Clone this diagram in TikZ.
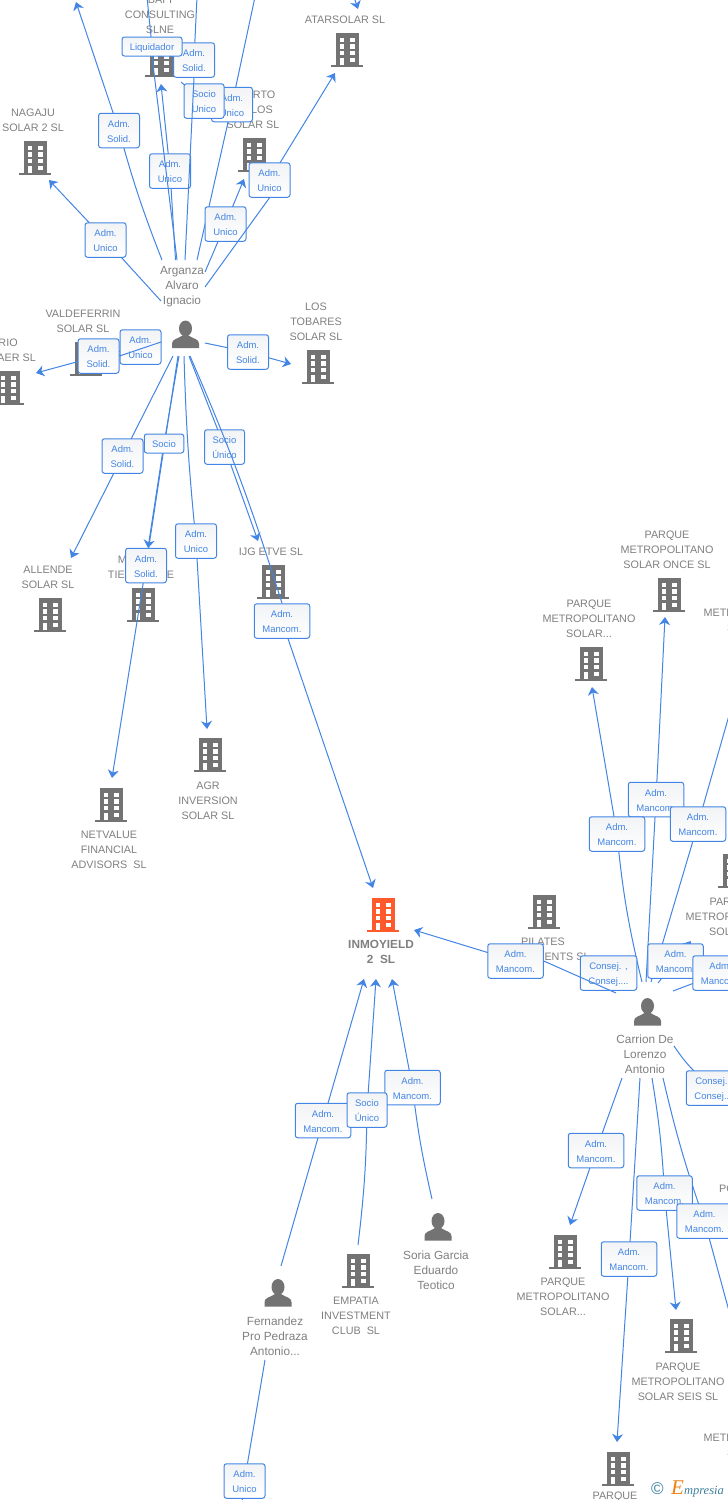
\documentclass[tikz,border=0pt]{standalone}
\usepackage{fontspec}
\setmainfont{Liberation Sans}
\newfontfamily\logofont{Liberation Serif}
\usetikzlibrary{arrows.meta}

\definecolor{txtgray}{HTML}{808080}
\definecolor{icongray}{HTML}{737373}
\definecolor{mainorange}{HTML}{FF5A2C}
\definecolor{tagblue}{HTML}{4385E4}
\definecolor{tagtop}{HTML}{F2F3F5}
\definecolor{logoteal}{HTML}{3E7F9E}
\definecolor{logoorange}{HTML}{F08010}

\pgfdeclarelayer{ents}
\pgfdeclarelayer{links}
\pgfsetlayers{ents,links,main}

\tikzset{
    ent/.style={text=txtgray, align=center, inner sep=0pt, yshift=-0.8pt, font=\fontsize{10.8}{15}\selectfont},
    man/.style={ent, font=\fontsize{11.8}{15}\selectfont},
    tag/.style={draw=tagblue, line width=1pt, rounded corners=2.5pt, text=tagblue, align=center,
        top color=tagtop, bottom color=white, inner sep=0pt, minimum width=41pt, minimum height=34.5pt,
        font=\fontsize{9.5}{15}\selectfont, text height=23pt, text depth=0pt},
    onetag/.style={tag, minimum height=19pt, text height=8.8pt},
    widetag/.style={tag, minimum width=55.5pt},
    link/.style={draw=tagblue, line width=1pt},
    arr/.style={link, -{Stealth[length=8pt,width=11pt,inset=2.5pt]}},
    pics/building/.style={code={
        \fill[#1] (-16,15) rectangle (16,17);
        \fill[#1] (-11.5,-17) rectangle (11.5,15);
        \foreach \wy in {-12.5,-5.8,0.9}{
            \fill[white] (-7.5,\wy) rectangle (-2.7,\wy+4.3);
            \fill[white] (2.7,\wy) rectangle (7.5,\wy+4.3);
        }
        \fill[white] (-7.5,7.6) rectangle (-2.7,15);
        \fill[white] (2.7,7.6) rectangle (7.5,12);
    }},
    pics/person/.style={code={
        \fill[icongray] (0,-6) ellipse (6.5 and 8);
        \fill[icongray] (-13.5,13.5) -- (-13.5,9) .. controls (-13.5,4.5) and (-8,4.5) .. (-3,1)
            -- (3,1) .. controls (8,4.5) and (13.5,4.5) .. (13.5,9) -- (13.5,13.5) -- cycle;
    }},
}

\begin{document}
\begin{tikzpicture}[x=1pt,y=-1pt]
    \useasboundingbox (0,0) rectangle (728,1500);

    \begin{pgfonlayer}{ents}
    \fill[white] (0,0) rectangle (728,1500);
    \pic at (161,60) {building=icongray};
    \pic at (347,50) {building=icongray};
    \pic at (35,158) {building=icongray};
    \pic at (254,155) {building=icongray};
    \pic at (86,359) {building=icongray};
    \pic at (8,388) {building=icongray};
    \pic at (318,367) {building=icongray};
    \pic at (50,615) {building=icongray};
    \pic at (143,605) {building=icongray};
    \pic at (273,582) {building=icongray};
    \pic at (210,755) {building=icongray};
    \pic at (111,805) {building=icongray};
    \pic at (383,915) {building=mainorange};
    \pic at (544,912) {building=icongray};
    \pic at (734,871) {building=icongray};
    \pic at (669,595) {building=icongray};
    \pic at (591,664) {building=icongray};
    \pic at (565,1252) {building=icongray};
    \pic at (681,1336) {building=icongray};
    \pic at (618,1469) {building=icongray};
    \pic at (358,1271) {building=icongray};
    \pic at (185.5,334.5) {person};
    \pic at (647.5,1012) {person};
    \pic at (438,1227) {person};
    \pic at (278,1293) {person};

    \node[ent] (bafi) at (160,14) {BAFI\\CONSULTING\\SLNE};
    \node[ent] (atarsolar) at (345,19) {ATARSOLAR SL};
    \node[ent] (nagaju) at (33,119.5) {NAGAJU\\SOLAR 2 SL};
    \node[ent] (puerto) at (253,109) {PUERTO\\DE LOS\\SOLAR SL};
    \node[man] (arganza) at (182,286) {Arganza\\Alvaro\\Ignacio};
    \node[ent] (valdeferrin) at (83,320.5) {VALDEFERRIN\\SOLAR SL};
    \node[ent, anchor=east] (rio) at (36,349.5) {RIO\hspace*{17pt}\\AER SL};
    \node[ent] (tobares) at (316,321) {LOS\\TOBARES\\SOLAR SL};
    \node[ent] (allende) at (48,576.5) {ALLENDE\\SOLAR SL};
    \node[ent] (tierra) at (141,566.5) {MADERA\\TIERRA ONE};
    \node[ent] (ijg) at (271,551) {IJG ETVE SL};
    \node[ent] (agr) at (208,800) {AGR\\INVERSION\\SOLAR SL};
    \node[ent] (netvalue) at (109,849) {NETVALUE\\FINANCIAL\\ADVISORS\ \ SL};
    \node[ent, font=\fontsize{11.8}{15}\selectfont\bfseries] (inmoyield) at (381,951.5) {INMOYIELD\\2\ \ SL};
    \node[ent] (pilates) at (543,948.5) {PILATES\\INVESTMENTS SL};
    \node[ent] (parqueonce) at (667,549) {PARQUE\\METROPOLITANO\\SOLAR ONCE SL};
    \node[ent] (parquesolar) at (589,618) {PARQUE\\METROPOLITANO\\SOLAR...};
    \node[ent] (parqueedge) at (750,612) {PARQUE\\METROPOLITANO\\SOLAR...};
    \node[ent] (parquesol) at (732,916) {PARQUE\\METROPOLITANO\\SOLAR...};
    \node[man] (carrion) at (645,1053) {Carrion De\\Lorenzo\\Antonio};
    \node[ent, anchor=west] (po) at (719,1188) {PO};
    \node[man] (soria) at (436,1269) {Soria Garcia\\Eduardo\\Teotico};
    \node[man] (fernandez) at (275,1335) {Fernandez\\Pro Pedraza\\Antonio...};
    \node[ent] (empatia) at (356,1315) {EMPATIA\\INVESTMENT\\CLUB\ \ SL};
    \node[ent] (parquelow) at (563,1296) {PARQUE\\METROPOLITANO\\SOLAR...};
    \node[ent] (parqueseis) at (678,1381) {PARQUE\\METROPOLITANO\\SOLAR SEIS SL};
    \node[ent] (parqueedgelow) at (750,1437) {PARQUE\\METROPOLITANO\\SOLAR...};
    \node[ent, anchor=north] (parquebottom) at (615,1491) {PARQUE};
    \end{pgfonlayer}

    % free ends
    \coordinate (ag1) at (162,260);
    \coordinate (ag2) at (161,301);
    \coordinate (ag3) at (175.5,260);
    \coordinate (ag4) at (177,260);
    \coordinate (ag5) at (185,260);
    \coordinate (ag6) at (197,260);
    \coordinate (ag7) at (205,272);
    \coordinate (ag8) at (205,287);
    \coordinate (ag9) at (205,343);
    \coordinate (ag10) at (161,342);
    \coordinate (ag11) at (173,356);
    \coordinate (ag12) at (179,356);
    \coordinate (ag13) at (178,356);
    \coordinate (ag14) at (184,356);
    \coordinate (ag15) at (189,356);
    \coordinate (ag16) at (190,356);
    \coordinate (offa) at (76,2);
    \coordinate (offb) at (147,-3);
    \coordinate (offc) at (197,-3);
    \coordinate (offd) at (255,-3);
    \coordinate (offe) at (353,-6);
    \coordinate (offf) at (181,82);
    \coordinate (to-atar) at (358,9);
    \coordinate (to-nagaju) at (49,180);
    \coordinate (to-bafi) at (161,84);
    \coordinate (to-puerto) at (225,119);
    \coordinate (to-puerto2) at (244,179);
    \coordinate (to-atar2) at (335,73);
    \coordinate (to-tobares) at (291,364);
    \coordinate (to-vald) at (112,353);
    \coordinate (to-rio) at (36,373);
    \coordinate (to-allende) at (71,558);
    \coordinate (to-tierra) at (148,548);
    \coordinate (to-netvalue) at (112,778);
    \coordinate (to-agr) at (207,729);
    \coordinate (to-ijg) at (258,541);
    \coordinate (to-inmo1) at (373,888);
    \coordinate (to-inmo2) at (414,930);
    \coordinate (to-inmo3) at (364,979);
    \coordinate (to-inmo4) at (376,979);
    \coordinate (to-inmo5) at (392,979);
    \coordinate (fe) at (281,1266);
    \coordinate (em) at (358,1245);
    \coordinate (so) at (432,1199);
    \coordinate (fe2) at (265,1360);
    \coordinate (offg) at (241,1510);
    \coordinate (ca1) at (616,993);
    \coordinate (ca2) at (642,982);
    \coordinate (ca3) at (646,982);
    \coordinate (ca4) at (651,982);
    \coordinate (ca5) at (658,983);
    \coordinate (ca6) at (673,991);
    \coordinate (ca7) at (674,1046);
    \coordinate (ca8) at (622,1078);
    \coordinate (ca9) at (640,1078);
    \coordinate (ca10) at (652,1078);
    \coordinate (ca11) at (663,1078);
    \coordinate (to-psolar) at (592,687);
    \coordinate (to-ponce) at (665,617);
    \coordinate (offh) at (738,684);
    \coordinate (to-psol) at (691,941);
    \coordinate (offi) at (745,965);
    \coordinate (offj) at (745,1095);
    \coordinate (to-plow) at (570,1225);
    \coordinate (to-pbottom) at (617,1442);
    \coordinate (to-pseis) at (676,1310);
    \coordinate (offk) at (732,1322);

    % labels
    \node[tag] (solidb) at (194,60) {Adm.\\Solid.};
    \node[tag] (unicoe) at (232,104.5) {Adm.\\Unico};
    \node[tag, minimum width=40pt] (sociob) at (204,101) {Socio\\Unico};
    \node[onetag, minimum width=60pt] (liquidador) at (152,46.5) {Liquidador};
    \node[tag] (solida) at (119,130.5) {Adm.\\Solid.};
    \node[tag] (unicoc) at (170,171) {Adm.\\Unico};
    \node[tag] (unicod) at (225.5,224) {Adm.\\Unico};
    \node[tag] (unicof) at (269.5,180) {Adm.\\Unico};
    \node[tag] (unicoa) at (105.5,240) {Adm.\\Unico};
    \node[tag] (unicov) at (140.5,347) {Adm.\\Unico};
    \node[tag] (solidr) at (98.5,356) {Adm.\\Solid.};
    \node[tag] (solidt) at (248,352) {Adm.\\Solid.};
    \node[tag] (solidal) at (122.5,456) {Adm.\\Solid.};
    \node[onetag, minimum width=39.5pt] (socioa) at (164,443.5) {Socio};
    \node[tag, minimum width=40pt] (socioij) at (224.5,447) {Socio\\Único};
    \node[tag] (unicoag) at (196,541) {Adm.\\Unico};
    \node[tag] (solidn) at (146,565.5) {Adm.\\Solid.};
    \node[widetag] (mancij) at (282,621) {Adm.\\Mancom.};
    \node[widetag] (mancon) at (656,799.5) {Adm.\\Mancom.};
    \node[widetag] (mancoed) at (698,824) {Adm.\\Mancom.};
    \node[widetag] (mancso) at (617,834) {Adm.\\Mancom.};
    \node[widetag] (mancin) at (515.5,961) {Adm.\\Mancom.};
    \node[tag, minimum width=56.5pt] (consa) at (608.5,973) {Consej. ,\\Consej....};
    \node[widetag] (manccu) at (675.5,961) {Adm.\\Mancom.};
    \node[widetag] (mancri) at (720.5,973) {Adm.\\Mancom.};
    \node[tag, minimum width=56.5pt] (consb) at (714.5,1088) {Consej. ,\\Consej....};
    \node[widetag] (mancpl) at (596,1150.5) {Adm.\\Mancom.};
    \node[widetag] (mancse) at (664.5,1193) {Adm.\\Mancom.};
    \node[widetag] (mancfa) at (704.5,1221) {Adm.\\Mancom.};
    \node[widetag] (mancbo) at (629,1259) {Adm.\\Mancom.};
    \node[widetag] (mancso2) at (412.5,1087.5) {Adm.\\Mancom.};
    \node[widetag] (mancfe) at (323,1120.5) {Adm.\\Mancom.};
    \node[tag, minimum width=40pt] (socioem) at (367,1110) {Socio\\Único};
    \node[tag] (unicofe) at (244.5,1481) {Adm.\\Unico};

    \begin{pgfonlayer}{links}
    \draw[arr] (offe) -- (to-atar);
    \draw[arr] (ag1) to[bend left=3] (solida.center) -- (offa);
    \draw[arr] (ag2) -- (unicoa.center) -- (to-nagaju);
    \draw[arr] (ag3) -- (unicoc.center) -- (to-bafi);
    \draw[link] (liquidador.center) -- (offb);
    \draw[link] (solidb.center) -- (offc);
    \draw[arr] (offf) -- (sociob.center) -- (to-puerto);
    \draw[link] (ag6) -- (unicoe.center) -- (offd);
    \draw[arr] (ag7) -- (unicod.center) -- (to-puerto2);
    \draw[arr] (unicof.center) -- (to-atar2);
    \draw[arr] (ag9) -- (solidt.center) -- (to-tobares);
    \draw[arr] (ag10) -- (unicov.center) -- (to-vald);
    \draw[arr] (solidr.center) -- (to-rio);
    \draw[arr] (ag11) -- (solidal.center) -- (to-allende);
    \draw[arr] (ag12) -- (socioa.center) -- (to-tierra);
    \draw[arr] (ag13) -- (solidn.center) -- (to-netvalue);
    \draw[arr] (ag14) to[bend right=2] (unicoag.center) -- (to-agr);
    \draw[arr] (ag15) -- (socioij.center) -- (to-ijg);
    \draw[arr] (mancij.center) -- (to-inmo1);
    \draw[arr] (mancin.center) -- (to-inmo2);
    \draw[arr] (fe) -- (mancfe.center) -- (to-inmo3);
    \draw[arr] (em) to[bend right=3] (socioem.center) -- (to-inmo4);
    \draw[arr] (so) to[bend left=3] (mancso2.center) -- (to-inmo5);
    \draw[link] (fe2) -- (unicofe.center) -- (offg);
    \draw[arr] (ca2) to[bend left=4] (mancso.center) -- (to-psolar);
    \draw[arr] (ca3) -- (mancon.center) -- (to-ponce);
    \draw[link] (ca4) -- (mancoed.center) -- (offh);
    \draw[arr] (ca5) -- (manccu.center) -- (to-psol);
    \draw[link] (ca6) -- (mancri.center) -- (offi);
    \draw[link] (ca7) to[bend right=10] (consb.center) -- (offj);
    \draw[arr] (ca8) -- (mancpl.center) -- (to-plow);
    \draw[arr] (ca9) -- (mancbo.center) -- (to-pbottom);
    \draw[arr] (ca10) to[bend left=3] (mancse.center) -- (to-pseis);
    \draw[link] (ca11) to[bend right=3] (mancfa.center) -- (offk);
    \end{pgfonlayer}

    % these run over the labels
    \draw[link] (ag4) -- (liquidador.south);
    \draw[link] (ag5) -- (solidb.south);
    \draw[link] (ag8) -- (unicof.south);
    \draw[link] (ag10) -- (solidr.east);
    \draw[link] (ag16) to[bend left=3] (mancij.north);
    \draw[link] (ca1) -- (mancin.east);

    \node[inner sep=0pt, text=logoteal, font=\fontsize{17}{17}\selectfont] (logocopy) at (657.5,1489) {©};
    \node[inner sep=0pt, anchor=base west, font=\logofont\itshape\fontsize{12.5}{12.5}\selectfont, text=logoteal] (logoname) at (671,1494)
        {\textcolor{logoorange}{\fontsize{21}{21}\selectfont E}mpresia};
\end{tikzpicture}
\end{document}
